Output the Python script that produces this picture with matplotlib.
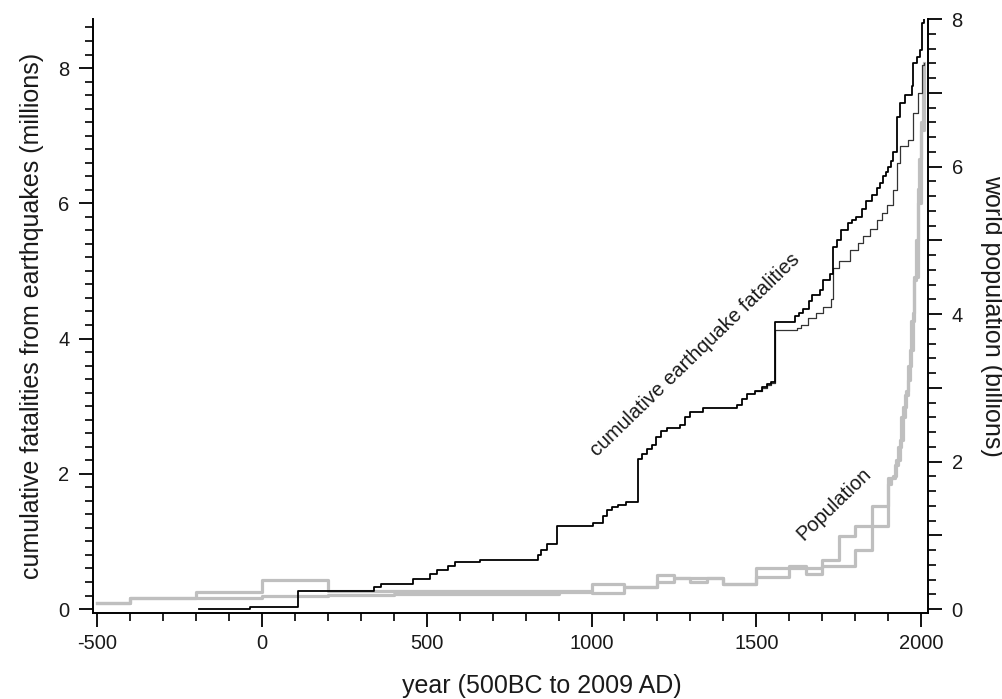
import numpy as np
import matplotlib
matplotlib.use("Agg")
import matplotlib.pyplot as plt
from matplotlib.ticker import MultipleLocator, FuncFormatter

plt.rcParams['font.family'] = ['Liberation Sans', 'DejaVu Sans']
plt.rcParams['axes.unicode_minus'] = False

#%% data
# cumulative earthquake fatalities (millions), step changes at these years
fat_years = [-190, -36, 110, 341, 361, 459, 510, 530, 565, 585, 661, 838, 848, 864, 894,
             1005, 1036, 1046, 1061, 1081, 1106, 1140, 1152, 1167, 1182, 1197, 1210, 1230,
             1268, 1284, 1299, 1339, 1440, 1456, 1471, 1496, 1517, 1532, 1545, 1556, 1617,
             1630, 1643, 1660, 1668, 1693, 1703, 1724, 1734, 1745, 1757, 1778, 1790, 1804,
             1820, 1834, 1850, 1865, 1875, 1885, 1893, 1900, 1908, 1916, 1926, 1936, 1951,
             1972, 1977, 1987, 1997, 2004, 2009]
fat_vals = [0.0, 0.03, 0.27, 0.32, 0.37, 0.44, 0.52, 0.58, 0.63, 0.69, 0.72, 0.80, 0.87, 0.96, 1.23,
            1.27, 1.37, 1.46, 1.51, 1.54, 1.58, 2.22, 2.29, 2.36, 2.43, 2.55, 2.63, 2.67,
            2.72, 2.84, 2.91, 2.98, 3.02, 3.10, 3.18, 3.23, 3.28, 3.33, 3.36, 4.25, 4.33,
            4.38, 4.44, 4.56, 4.64, 4.72, 4.87, 4.96, 5.36, 5.45, 5.61, 5.71, 5.76, 5.80,
            5.92, 6.03, 6.12, 6.22, 6.30, 6.40, 6.47, 6.54, 6.62, 6.76, 7.28, 7.48, 7.60,
            7.73, 8.07, 8.17, 8.27, 8.66, 8.72]

# second (lower) fatalities curve, separates from ~1550
low_years = [1500, 1517, 1532, 1545, 1556, 1625, 1635, 1656, 1680, 1701, 1726, 1734, 1752,
             1785, 1810, 1825, 1845, 1865, 1880, 1896, 1916, 1926, 1936, 1961, 1977, 1992,
             2003, 2009]
low_vals = [3.22, 3.27, 3.31, 3.34, 4.13, 4.16, 4.20, 4.30, 4.38, 4.47, 4.58, 5.05, 5.15,
            5.31, 5.42, 5.51, 5.62, 5.75, 5.85, 5.98, 6.20, 6.59, 6.84, 6.94, 7.33, 7.63,
            8.05, 8.07]

# world population (billions), two estimates
pop_a_years = [-500, -400, -200, 0, 200, 1000, 1100, 1200, 1250, 1400, 1500, 1600, 1650,
               1700, 1750, 1800, 1850, 1900, 1915, 1925, 1935, 1945, 1955, 1960, 1965,
               1975, 1980, 1985, 1990, 1995, 2000, 2005, 2009]
pop_a = [0.08, 0.15, 0.235, 0.40, 0.25, 0.335, 0.30, 0.46, 0.42, 0.335, 0.55, 0.59, 0.55,
         0.67, 0.99, 1.12, 1.40, 1.77, 1.80, 2.02, 2.29, 2.74, 2.95, 3.10, 3.51,
         4.01, 4.46, 5.0, 5.7, 6.1, 6.6, 7.0, 7.4]

pop_b_years = [-500, -400, 0, 200, 400, 900, 1000, 1100, 1200, 1250, 1300, 1350, 1400,
               1500, 1600, 1650, 1700, 1800, 1850, 1900, 1910, 1920, 1930, 1940, 1950,
               1960, 1970, 1980, 1990, 2000, 2009]
pop_b = [0.08, 0.15, 0.18, 0.19, 0.21, 0.23, 0.22, 0.30, 0.37, 0.42, 0.36, 0.42, 0.335,
         0.44, 0.55, 0.47, 0.58, 0.80, 1.12, 1.70, 1.78, 1.95, 2.2, 2.6, 2.9,
         3.3, 3.9, 4.5, 5.5, 6.5, 7.3]

txt_col = '#1a1a1a'
gray = '#bfbfbf'

#%% plot
fig = plt.figure(figsize=(10.03, 6.99), dpi=100)
ax = fig.add_axes([0.0927, 0.123, 0.8325, 0.8498])
ax2 = ax.twinx()

ax2.step(pop_a_years, pop_a, where='post', color=gray, lw=2.3)
ax2.step(pop_b_years, pop_b, where='post', color=gray, lw=2.3)

ax.step(low_years, low_vals, where='post', color='#333333', lw=0.9)
ax.step(fat_years, fat_vals, where='post', color='black', lw=1.3)

ax.set_zorder(ax2.get_zorder() + 1)
ax.patch.set_visible(False)

ax.set_xlim(-513, 2021)
ax.set_ylim(-0.059, 8.725)
ax2.set_ylim(-0.054, 8.0)

for s in ['top', 'right']:
    ax.spines[s].set_visible(False)
for s in ['top', 'left', 'bottom']:
    ax2.spines[s].set_visible(False)
for s in [ax.spines['left'], ax.spines['bottom'], ax2.spines['right']]:
    s.set_linewidth(1.4)

ax.xaxis.set_major_locator(MultipleLocator(500))
ax.xaxis.set_minor_locator(MultipleLocator(100))
ax.yaxis.set_major_locator(MultipleLocator(2))
ax.yaxis.set_minor_locator(MultipleLocator(0.2))
ax2.yaxis.set_major_locator(MultipleLocator(1))
ax2.yaxis.set_minor_locator(MultipleLocator(0.2))
ax2.yaxis.set_major_formatter(FuncFormatter(lambda v, p: '%d' % v if int(round(v)) % 2 == 0 else ''))

for a in [ax, ax2]:
    a.tick_params(which='major', direction='out', length=10, width=1.3, labelsize=14.5,
                  colors='black', labelcolor=txt_col)
    a.tick_params(which='minor', direction='out', length=5.5, width=1.2, colors='black')
ax.tick_params(axis='y', which='major', pad=7)
ax.tick_params(axis='x', which='major', pad=5)
ax2.tick_params(axis='y', which='major', pad=7)

ax.set_xlabel('year (500BC to 2009 AD)', fontsize=18, color=txt_col)
ax.xaxis.set_label_coords(0.538, -0.123)
ax.xaxis.label.set_verticalalignment('center')
ax.set_ylabel('cumulative fatalities from earthquakes (millions)', fontsize=18, color=txt_col)
ax.yaxis.set_label_coords(-0.073, 0.5)
ax.yaxis.label.set_verticalalignment('center')
ax2.set_ylabel('world population (billions)', fontsize=18, color=txt_col, rotation=270)
ax2.yaxis.set_label_coords(1.0766, 0.5)
ax2.yaxis.label.set_verticalalignment('center')

ax.text(1314, 3.76, 'cumulative earthquake fatalities', rotation=44, fontsize=14.5,
        color=txt_col, ha='center', va='center', rotation_mode='anchor')
ax.text(1735, 1.55, 'Population', rotation=44, fontsize=14.5,
        color=txt_col, ha='center', va='center', rotation_mode='anchor')

plt.savefig('out.png', dpi=100)
